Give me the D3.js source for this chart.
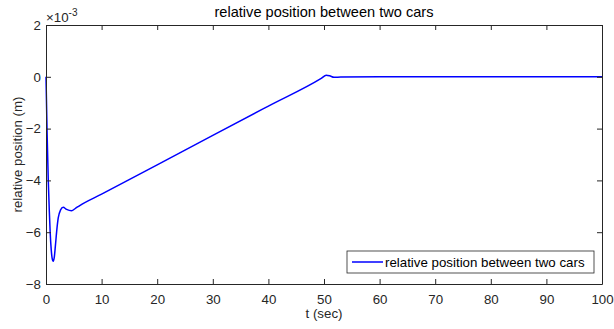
<!DOCTYPE html>
<html>
<head>
<meta charset="utf-8">
<script src="https://cdn.jsdelivr.net/npm/d3@7"></script>
<style>
  body { margin: 0; background: #fff; }
  svg { font-family: "Liberation Sans", Arial, sans-serif; }
</style>
</head>
<body>
<div id="chart"></div>
<script>
// values in units of 1e-3 m
let times = [0, 0.2, 0.41, 0.6, 0.75, 0.95, 1.1, 1.3, 1.5, 1.7, 1.95, 2.2, 2.6, 3.1, 3.7, 4.6, 5.3, 6.0,
  10, 20, 30, 40, 49.5, 50.4, 51.0, 51.8, 53, 60, 70, 80, 90, 100];
let positions = [0, -2.2, -4.0, -5.2, -6.0, -6.7, -7.0, -7.12, -6.95, -6.5, -5.9, -5.45, -5.15, -5.04, -5.12, -5.17, -5.08, -4.98,
  -4.53, -3.40, -2.26, -1.13, -0.06, 0.06, 0.04, -0.02, -0.01, 0, 0, 0, 0, 0];
let xTicks = [0, 10, 20, 30, 40, 50, 60, 70, 80, 90, 100];
let yTicks = [-8, -6, -4, -2, 0, 2];

let data = times.map((t, i) => ({ t: t, v: positions[i] }));

let width = 614, height = 329;
let margin = { top: 25, right: 12, bottom: 45, left: 46 };
let w = width - margin.left - margin.right;
let h = height - margin.top - margin.bottom;
let axisColor = "#262626";
let fs = "13.3px";

let svg = d3.select("#chart").append("svg")
  .attr("width", width).attr("height", height);

let g = svg.append("g")
  .attr("transform", "translate(" + margin.left + "," + margin.top + ")");

let x = d3.scaleLinear().domain([0, 100]).range([0, w]);
let y = d3.scaleLinear().domain([-8, 2]).range([h, 0]);

// the curve
g.append("path")
  .datum(data)
  .attr("fill", "none")
  .attr("stroke", "#0000ff")
  .attr("stroke-width", 1.5)
  .attr("d", d3.line().x(d => x(d.t)).y(d => y(d.v)).curve(d3.curveMonotoneX));

// axes, ticks inward, box on
function styleAxis(sel) {
  sel.selectAll("path").attr("stroke", axisColor);
  sel.selectAll("line").attr("stroke", axisColor);
  sel.selectAll("text").attr("fill", axisColor).style("font-size", fs);
}

g.append("g").attr("transform", "translate(0," + h + ")")
  .call(d3.axisBottom(x).tickValues(xTicks).tickSize(-5).tickPadding(11).tickSizeOuter(0))
  .call(styleAxis);
g.append("g")
  .call(d3.axisLeft(y).tickValues(yTicks).tickSize(-5).tickPadding(5).tickSizeOuter(0))
  .call(styleAxis);
g.append("g")
  .call(d3.axisTop(x).tickValues(xTicks).tickSize(-5).tickFormat("").tickSizeOuter(0))
  .call(styleAxis);
g.append("g").attr("transform", "translate(" + w + ",0)")
  .call(d3.axisRight(y).tickValues(yTicks).tickSize(-5).tickFormat("").tickSizeOuter(0))
  .call(styleAxis);

// exponent label
let expo = svg.append("text")
  .attr("x", margin.left).attr("y", 22)
  .attr("fill", axisColor).style("font-size", fs);
expo.append("tspan").text("\u00d710");
expo.append("tspan").attr("dy", -6).style("font-size", "10px").text("-3");

// title and labels
svg.append("text")
  .attr("x", margin.left + w / 2).attr("y", 17)
  .attr("text-anchor", "middle").attr("fill", "#000")
  .style("font-size", "14.6px")
  .text("relative position between two cars");

svg.append("text")
  .attr("x", margin.left + w / 2).attr("y", 318)
  .attr("text-anchor", "middle").attr("fill", axisColor)
  .style("font-size", fs)
  .text("t (sec)");

svg.append("text")
  .attr("transform", "translate(22," + (margin.top + h / 2) + ") rotate(-90)")
  .attr("text-anchor", "middle").attr("fill", axisColor)
  .style("font-size", fs)
  .text("relative position (m)");

// legend
let lg = svg.append("g").attr("transform", "translate(347,251)");
lg.append("rect")
  .attr("width", 247).attr("height", 22)
  .attr("fill", "#fff").attr("stroke", axisColor).attr("stroke-width", 0.8);
lg.append("line")
  .attr("x1", 5).attr("x2", 36).attr("y1", 11).attr("y2", 11)
  .attr("stroke", "#0000ff").attr("stroke-width", 1.5);
lg.append("text")
  .attr("x", 38).attr("y", 16)
  .attr("fill", "#000").style("font-size", fs)
  .text("relative position between two cars");
</script>
</body>
</html>
